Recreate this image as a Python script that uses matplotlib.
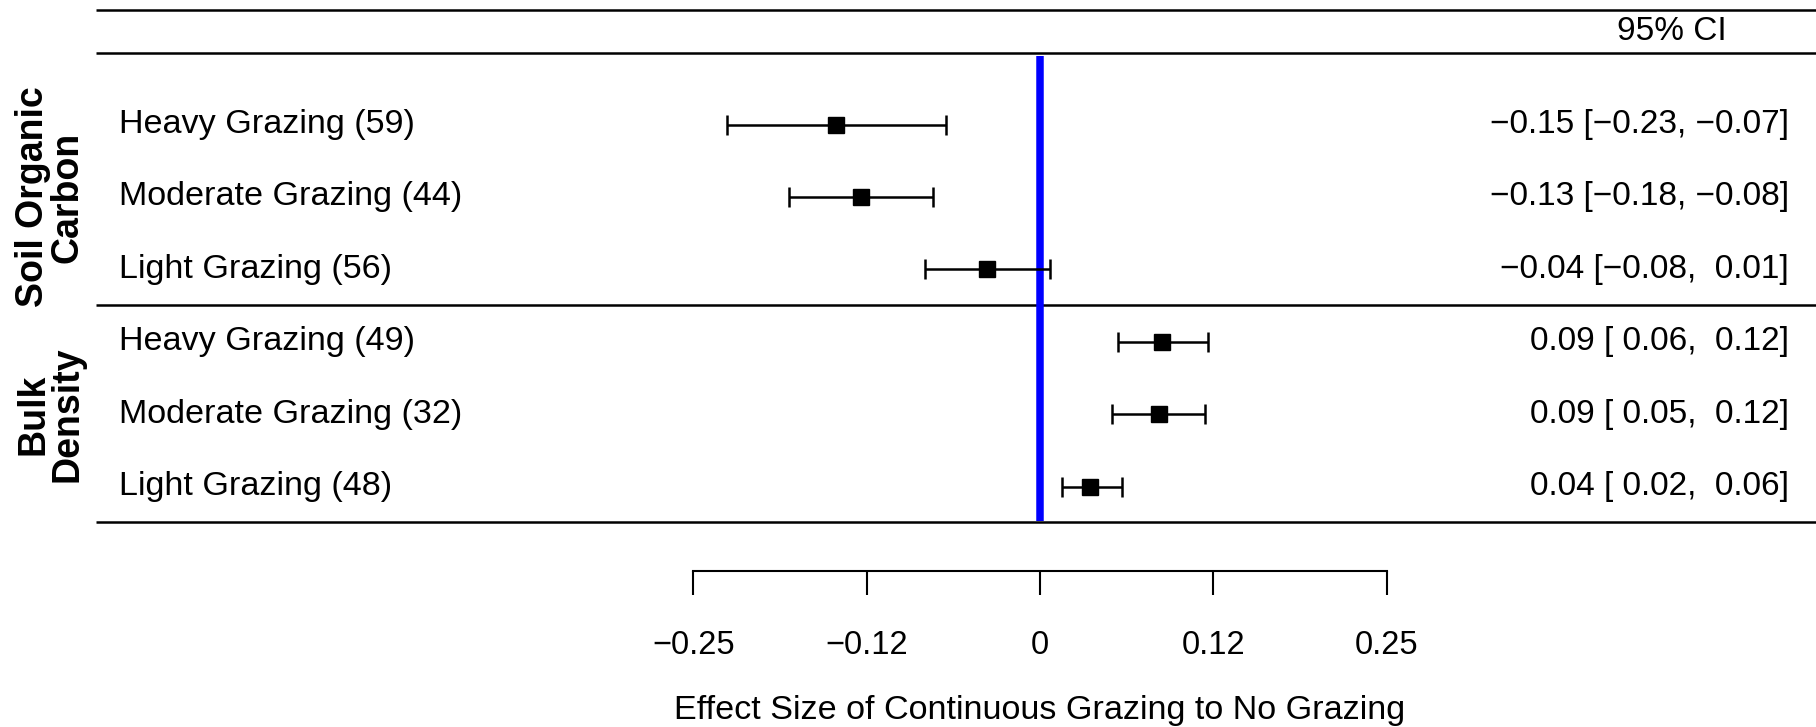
import matplotlib
matplotlib.use("Agg")
import matplotlib.pyplot as plt

plt.rcParams["font.family"] = ["Liberation Sans", "DejaVu Sans"]

# data
labels = ["Heavy Grazing (59)", "Moderate Grazing (44)", "Light Grazing (56)",
          "Heavy Grazing (49)", "Moderate Grazing (32)", "Light Grazing (48)"]
est = [-0.147, -0.129, -0.038, 0.088, 0.086, 0.036]
lo = [-0.226, -0.181, -0.083, 0.056, 0.052, 0.016]
hi = [-0.068, -0.077, 0.007, 0.121, 0.119, 0.059]
groups = ["Soil Organic\nCarbon", "Bulk\nDensity"]
ticks = [-0.25, -0.125, 0, 0.125, 0.25]
tick_labels = ["\u22120.25", "\u22120.12", "0", "0.12", "0.25"]

rows = [6, 5, 4, 3, 2, 1]


def fmt(v, w=5):
    return f"{v:{w}.2f}".replace("-", "\u2212")


fig = plt.figure(figsize=(18.16, 7.27), dpi=100)
ax = fig.add_axes([0, 0, 1, 1])
ax.set_xlim(-0.7498, 0.5595)
ax.set_ylim(-2.322, 7.720)

# table lines
for yy in [7.576, 6.983, 3.512, 0.503]:
    ax.plot([-0.6806, 0.5595], [yy, yy], color="black", lw=1.8, solid_capstyle="butt")

# reference line
ax.vlines(0, 0.53, 6.94, color="#0000ff", lw=5.4)

# estimates and CI
xerr = [[e - l for e, l in zip(est, lo)], [h - e for e, h in zip(est, hi)]]
ax.errorbar(est, rows, xerr=xerr, fmt="s", color="black", ms=11.5,
            elinewidth=1.8, capsize=7.5, capthick=1.8, zorder=3)

# row labels and CI text
for r, lab, e, l, h in zip(rows, labels, est, lo, hi):
    ax.text(-0.664, r, lab, fontsize=24.6, ha="left", va="center")
    ax.text(0.540, r, f"{fmt(e, 1)} [{fmt(l)}, {fmt(h)}]", fontsize=24,
            ha="right", va="center")

ax.text(0.4553, 7.29, "95% CI", fontsize=24, ha="center", va="center")

# group labels
ax.text(-0.7135, 5, groups[0], fontsize=27, fontweight="bold", rotation=90,
        ha="center", va="center", multialignment="center", linespacing=0.95)
ax.text(-0.7135, 2, groups[1], fontsize=27, fontweight="bold", rotation=90,
        ha="center", va="center", multialignment="center", linespacing=0.95)

# x axis
for s in ["top", "right", "left"]:
    ax.spines[s].set_visible(False)
ax.spines["bottom"].set_position(("data", -0.170))
ax.spines["bottom"].set_bounds(-0.25, 0.25)
ax.spines["bottom"].set_linewidth(1.5)
ax.set_xticks(ticks)
ax.set_xticklabels(tick_labels)
ax.tick_params(axis="x", direction="out", length=17.6, width=1.5, pad=25, labelsize=23.5)
ax.set_yticks([])

ax.text(0, -2.10, "Effect Size of Continuous Grazing to No Grazing", fontsize=24.6,
        ha="center", va="center")

plt.savefig("out.png", dpi=100)
